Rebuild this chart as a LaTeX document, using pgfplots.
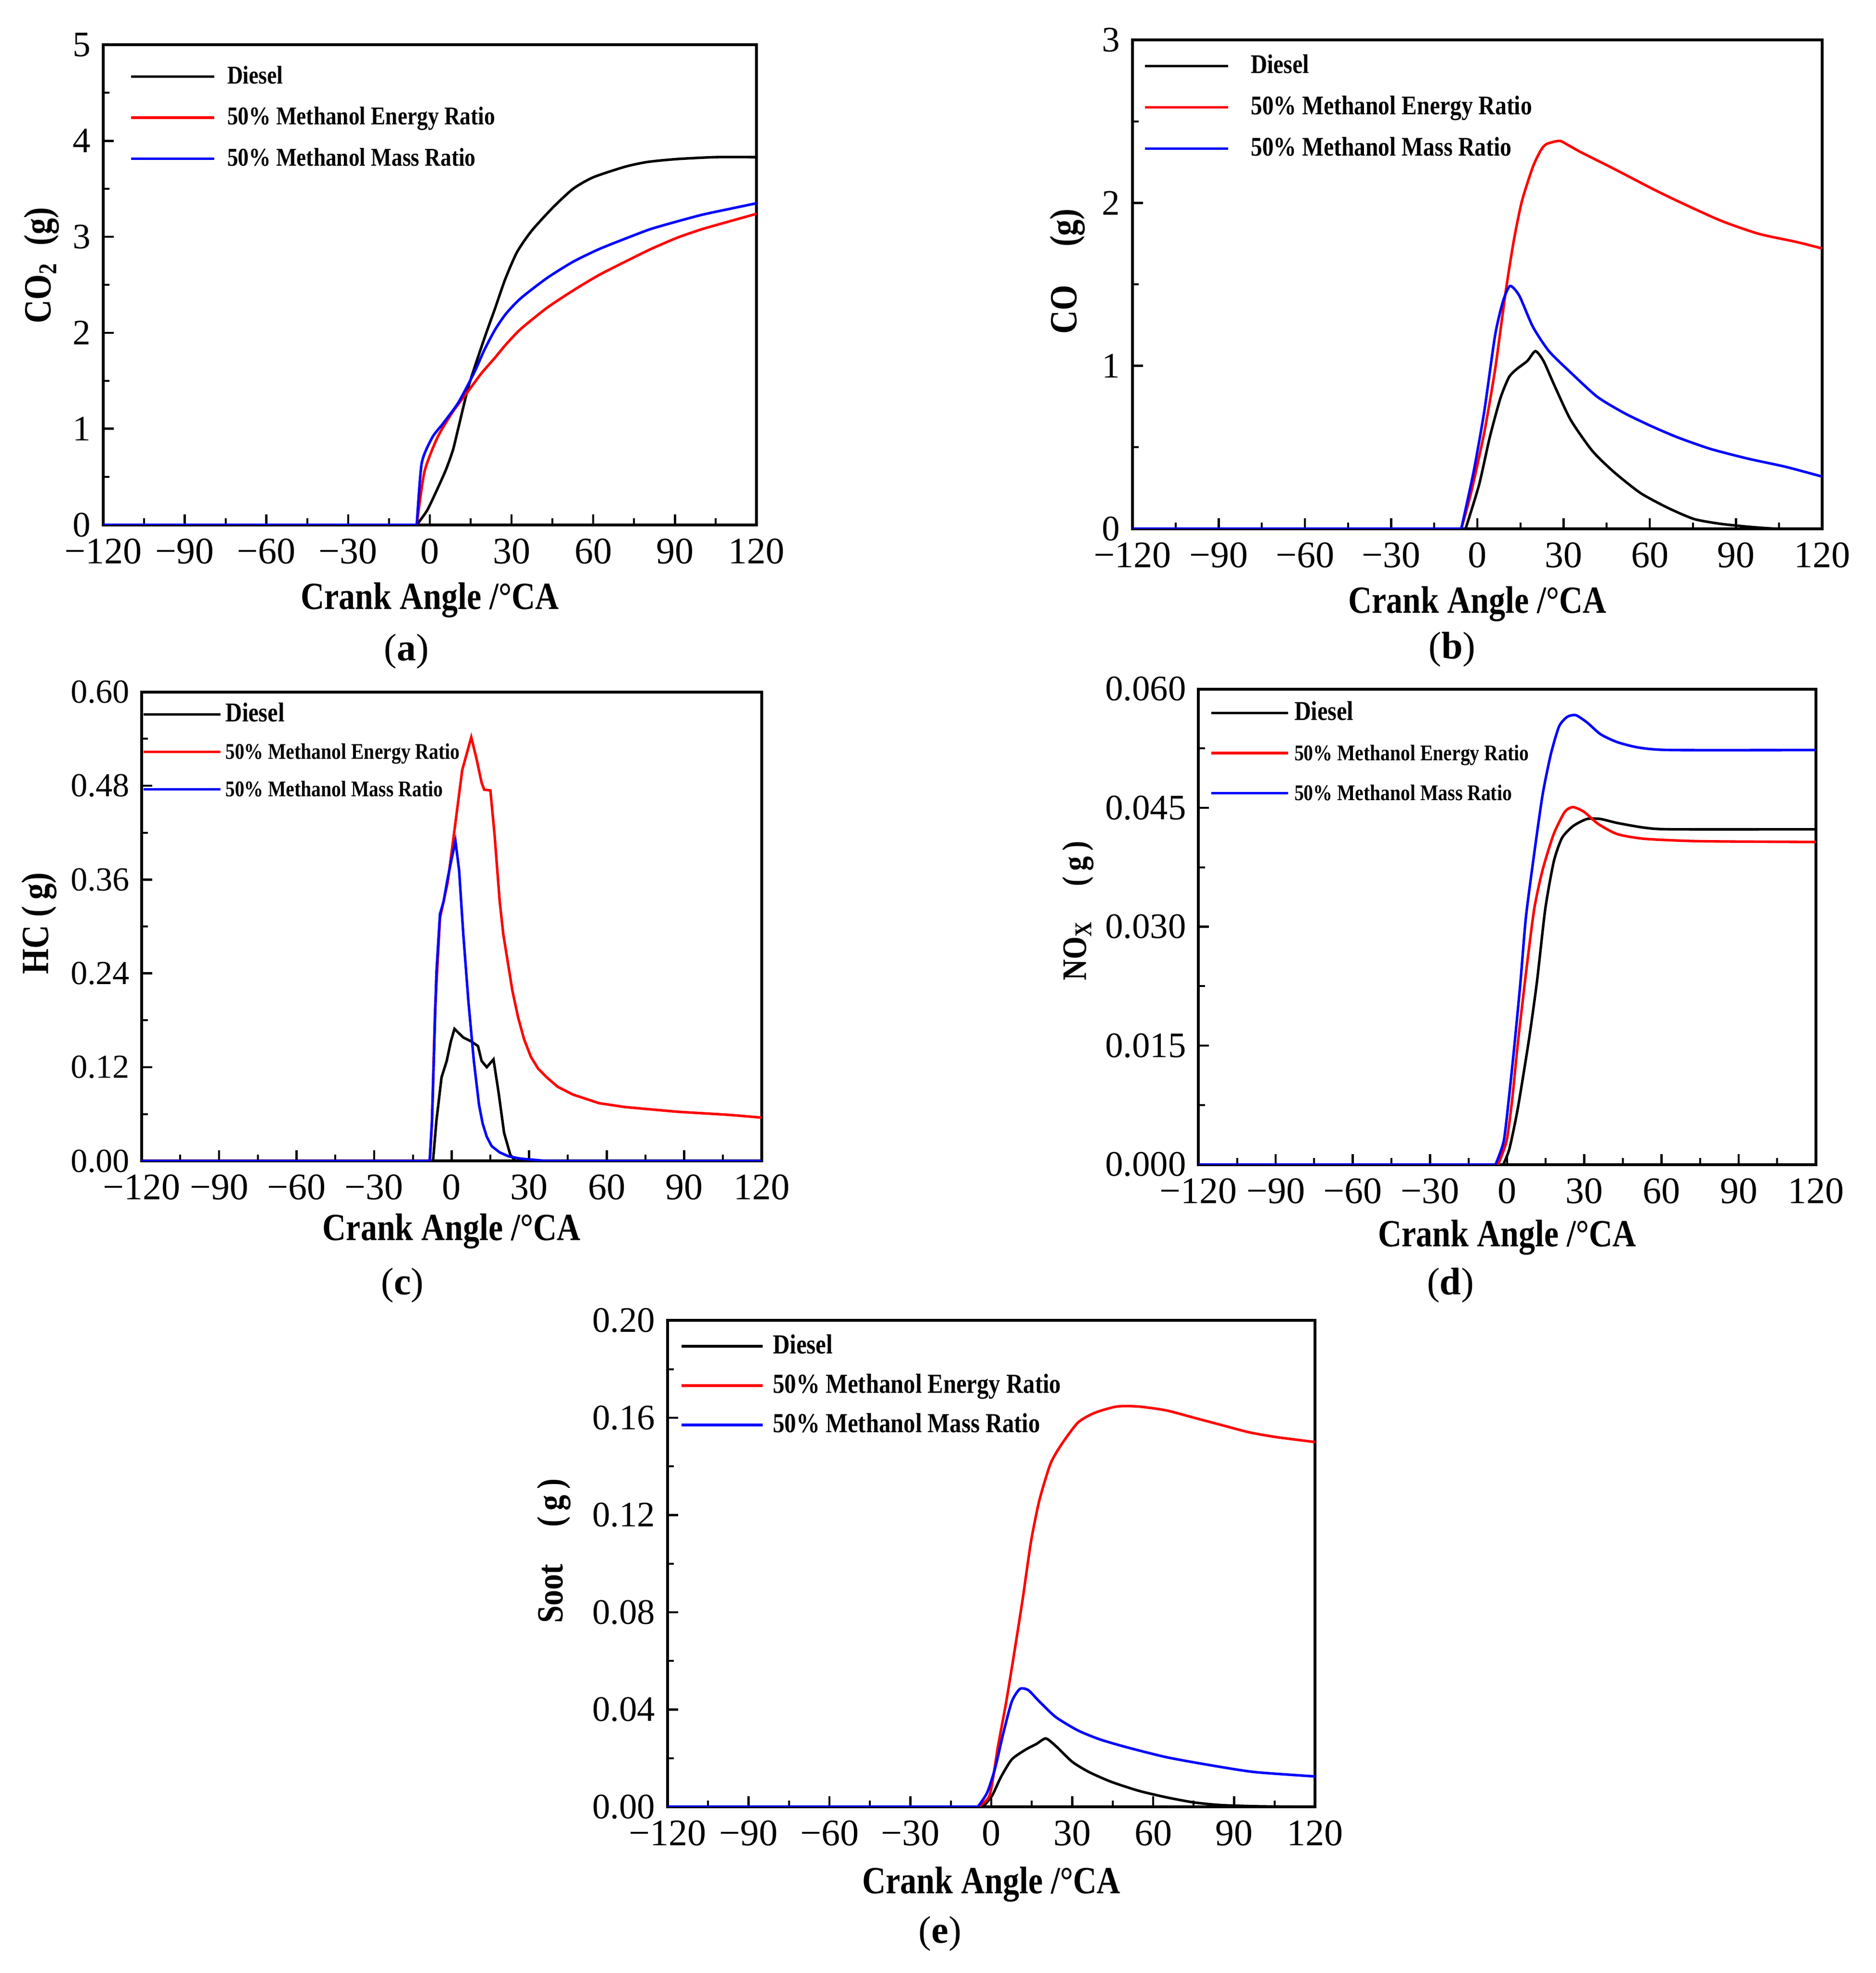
\documentclass[border=0pt]{standalone}
\usepackage{fontspec}
\setmainfont{Liberation Serif}
\newfontfamily\cond{Liberation Serif}[FakeStretch=0.85]
\usepackage{pgfplots}
\pgfplotsset{compat=1.18}
\definecolor{pred}{RGB}{255,0,0}
\definecolor{pblue}{RGB}{0,0,255}
\pgfplotsset{
 samplelen/.initial=26pt,
 panel/.style={
  scale only axis, anchor=south west,
  scaled ticks=false,
  xmin=-120, xmax=120, xtick={-120,-90,-60,-30,0,30,60,90,120},
  xticklabels={−120,−90,−60,−30,0,30,60,90,120},
  minor x tick num=1, minor y tick num=1,
  tick align=inside, xtick pos=bottom, ytick pos=left,
  major tick length=3.3pt, minor tick length=2pt,
  major tick style={line width=0.7pt,black}, minor tick style={line width=0.6pt,black},
  axis line style={line width=0.9pt},
  xticklabel style={font=\fontsize{11.7}{13}\selectfont, inner sep=0.5pt, yshift=-3.6pt},
  yticklabel style={font=\fontsize{11.2}{13}\selectfont, inner sep=0.5pt, xshift=-3.2pt},
  xlabel={Crank Angle /°CA},
  legend cell align=left,
  legend image code/.code={\draw[##1] (0pt,0pt) -- (\pgfkeysvalueof{/pgfplots/samplelen},0pt);},
  every axis plot/.append style={line width=0.8pt},
 },
 xl/.style={every axis x label/.style={at={(axis description cs:0.5,0)}, anchor=center, yshift=-#1, font=\cond\bfseries\fontsize{12}{14}\selectfont}},
 yl/.style 2 args={every axis y label/.style={at={([xshift=-#1,yshift=#2]axis description cs:0,0.5)}, rotate=90, anchor=center, font=\cond\bfseries\fontsize{12}{14}\selectfont}},
 leg/.style n args={6}{samplelen=#6, legend style={draw=none, fill=none, at={(#1,#2)}, anchor=north west, inner sep=0pt, row sep=#3, column sep=#4,
   font=\cond\bfseries\fontsize{#5}{#5}\selectfont, nodes={inner sep=0pt, text height=6pt, text depth=1.5pt}}},
}
\begin{document}
\begin{tikzpicture}
\path (0pt,0pt) rectangle (585.9pt,616.2pt);
% ---------------- (a) CO2
\begin{axis}[panel, at={(32.2pt,452.3pt)}, width=204.1pt, height=149.9pt,
  ymin=0, ymax=5, ytick={0,1,2,3,4,5}, yticklabels={0,1,2,3,4,5},
  ylabel={CO\textsubscript{2}\ \ (g)}, yl={19.2pt}{6pt}, xl=23.5pt,
  leg={0.04}{0.960}{5.3pt}{3.6pt}{8}{26pt}]
\addplot[black, forget plot] coordinates {(-120,0)(-4.8,0)};
\addplot[pred, forget plot] coordinates {(-120,0)(-4.8,0)};
\addplot[pblue, forget plot] coordinates {(-120,0)(-4.8,0)};
\addplot[black, smooth, tension=0.4] coordinates {(-4.8,0)(-1,0.15)(2.8,0.375)(6,0.58)(8.5,0.78)(10.4,1.0)(14.3,1.45)(20,1.94)(23.9,2.25)(27.7,2.56)(32,2.84)(37.3,3.06)(45,3.30)(52.6,3.50)(60,3.62)(71.7,3.73)(80,3.78)(90.8,3.81)(105,3.83)(120,3.83)};
\addplot[pred, smooth, tension=0.4] coordinates {(-4.8,0)(-2,0.55)(2.8,0.91)(8.5,1.18)(14.3,1.40)(19,1.58)(23.9,1.74)(28,1.88)(33.4,2.04)(43,2.26)(52.6,2.44)(62,2.60)(71.7,2.74)(81,2.87)(90.8,2.99)(100,3.08)(109.9,3.16)(120,3.24)};
\addplot[pblue, smooth, tension=0.4] coordinates {(-4.8,0)(-3,0.64)(0.9,0.91)(4.7,1.05)(10.4,1.27)(16.2,1.58)(20,1.82)(23.9,2.03)(28,2.20)(33.4,2.36)(43,2.57)(52.6,2.74)(62,2.87)(71.7,2.98)(81,3.08)(90.8,3.16)(100,3.23)(109.9,3.29)(120,3.35)};
\legend{Diesel,50\% Methanol Energy Ratio,50\% Methanol Mass Ratio}
\end{axis}
% ---------------- (b) CO
\begin{axis}[panel, at={(353.7pt,451.05pt)}, width=215.4pt, height=152.7pt,
  ymin=0, ymax=3, ytick={0,1,2,3}, yticklabels={0,1,2,3},
  ylabel={CO\quad(g)}, yl={20.3pt}{4pt}, xl=23.5pt,
  leg={0.015}{0.9725}{5.4pt}{6.7pt}{8.4}{26pt}]
\addplot[black, forget plot] coordinates {(-120,0)(-4.1,0)};
\addplot[pred, forget plot] coordinates {(-120,0)(-5.6,0)};
\addplot[pblue, forget plot] coordinates {(-120,0)(-5.6,0)};
\addplot[black, smooth, tension=0.4] coordinates {(-4.1,0)(0.6,0.27)(4.3,0.56)(8,0.80)(11,0.93)(13.7,0.98)(17.4,1.03)(20.2,1.09)(23,1.03)(26.8,0.88)(32.4,0.67)(39.9,0.48)(47.4,0.35)(56.7,0.22)(66.1,0.13)(75.4,0.06)(84.8,0.03)(96,0.01)(105,0)(120,0)};
\addplot[pred, smooth, tension=0.4] coordinates {(-5.6,0)(-2.2,0.22)(2.4,0.59)(6.2,0.98)(9.9,1.46)(12.7,1.77)(15.5,2.01)(19.3,2.22)(22,2.32)(24,2.36)(28.6,2.38)(32,2.35)(36.1,2.31)(47.4,2.21)(60.5,2.09)(69.8,2.01)(84.8,1.89)(97.9,1.81)(111,1.76)(120,1.72)};
\addplot[pblue, smooth, tension=0.4] coordinates {(-5.6,0)(-1.3,0.35)(2.4,0.72)(6.2,1.19)(9,1.40)(11.4,1.49)(14.6,1.43)(19.3,1.24)(24.9,1.09)(32.4,0.96)(41.7,0.81)(51.1,0.71)(60.5,0.63)(69.8,0.56)(81.1,0.49)(94.2,0.43)(107.3,0.38)(120,0.32)};
\legend{Diesel,50\% Methanol Energy Ratio,50\% Methanol Mass Ratio}
\end{axis}
% ---------------- (c) HC
\begin{axis}[panel, at={(44.2pt,253.6pt)}, width=193.7pt, height=146.5pt,
  yticklabel style={font=\fontsize{10.5}{12}\selectfont, xshift=0.2pt},
  ymin=0, ymax=0.6, ytick={0,0.12,0.24,0.36,0.48,0.6}, yticklabels={0.00,0.12,0.24,0.36,0.48,0.60},
  ylabel={HC (\,g)}, yl={32pt}{1pt}, xl=22pt,
  leg={0}{0.979}{4.2pt}{1.2pt}{7}{24pt}]
\addplot[black] coordinates {(-120,0)(-7.2,0)(-5.9,0.051)(-3.9,0.107)(-1.9,0.128)(-0.3,0.153)(1.1,0.169)(4.5,0.158)(7.6,0.153)(10.2,0.147)(11.6,0.128)(13.6,0.120)(16.2,0.130)(18.2,0.087)(20.3,0.036)(22.7,0.008)(24.7,0)(120,0)};
\addplot[pred] coordinates {(-120,0)(-8.4,0)(-7.6,0.051)(-6.4,0.194)(-4.5,0.311)(-1.5,0.357)(1.1,0.423)(4.1,0.500)(7.6,0.542)(9.6,0.515)(11.6,0.484)(12.6,0.475)(15,0.474)(16.6,0.418)(18.6,0.332)(20,0.290)(21.7,0.255)(23.5,0.218)(25.7,0.184)(28,0.156)(30.7,0.133)(33.5,0.118)(36.8,0.107)(41,0.095)(46.9,0.085)(57,0.074)(67,0.069)(87.2,0.063)(107.4,0.059)(120,0.0555)};
\addplot[pblue] coordinates {(-120,0)(-8.5,0)(-7.6,0.051)(-5.9,0.240)(-4.5,0.316)(-3.1,0.332)(-1.5,0.362)(0.1,0.388)(1.5,0.409)(2.9,0.372)(4.5,0.291)(6.5,0.204)(8.6,0.128)(10.6,0.072)(12,0.048)(13.6,0.031)(15.5,0.019)(18.6,0.011)(22,0.006)(26.7,0.003)(36.8,0)(120,0)};
\legend{{\fontsize{8.5}{9}\selectfont Diesel},50\% Methanol Energy Ratio,50\% Methanol Mass Ratio}
\end{axis}
% ---------------- (d) NOx
\begin{axis}[panel, at={(374.3pt,252.5pt)}, width=192.8pt, height=148.5pt,
  ymin=0, ymax=0.06, ytick={0,0.015,0.03,0.045,0.06}, yticklabels={0.000,0.015,0.030,0.045,0.060},
  ylabel={\fontsize{10.7}{12}\selectfont NO\textsubscript{X}\quad(\,g\,)}, yl={37.6pt}{5pt}, xl=22.8pt,
  leg={0.018}{0.976}{5.0pt}{1.5pt}{7}{24pt}]
\addplot[black, forget plot] coordinates {(-120,0)(-1.5,0)};
\addplot[pred, forget plot] coordinates {(-120,0)(-3.5,0)};
\addplot[pblue, forget plot] coordinates {(-120,0)(-4.5,0)};
\addplot[black, smooth, tension=0.4] coordinates {(-1.5,0)(0.9,0.0020)(4.1,0.0070)(8.4,0.0156)(11.6,0.0231)(14.8,0.0322)(18.1,0.0382)(21.3,0.0412)(25.6,0.0427)(31,0.0436)(36.3,0.0436)(42.8,0.0431)(53.5,0.0425)(64.3,0.0423)(120,0.0423)};
\addplot[pred, smooth, tension=0.4] coordinates {(-3.5,0)(-0.2,0.0030)(1.9,0.0080)(4.1,0.0151)(7.3,0.0241)(10.5,0.0322)(13.8,0.0372)(18.1,0.0417)(22.4,0.0445)(25.6,0.0451)(29.9,0.0445)(35.3,0.0430)(42.8,0.0417)(53.5,0.0411)(75,0.0408)(120,0.0407)};
\addplot[pblue, smooth, tension=0.4] coordinates {(-4.5,0)(-1.3,0.0030)(0.9,0.0090)(3,0.0156)(5.2,0.0231)(7.3,0.0312)(10.5,0.0392)(13.8,0.0467)(17,0.0518)(20.2,0.0553)(23.4,0.0565)(26.7,0.0567)(31,0.0558)(36.3,0.0543)(42.8,0.0533)(51.4,0.0526)(64.3,0.0523)(120,0.0523)};
\legend{{\fontsize{8.5}{9}\selectfont Diesel},50\% Methanol Energy Ratio,50\% Methanol Mass Ratio}
\end{axis}
% ---------------- (e) Soot
\begin{axis}[panel, at={(208.5pt,51.9pt)}, width=202.2pt, height=151.9pt,
  ymin=0, ymax=0.2, ytick={0,0.04,0.08,0.12,0.16,0.2}, yticklabels={0.00,0.04,0.08,0.12,0.16,0.20},
  ylabel={\fontsize{11.5}{13}\selectfont Soot\quad(\,g\,)}, yl={35.5pt}{4pt}, xl=24.3pt,
  leg={0.0185}{0.973}{4.8pt}{2.8pt}{8.6}{25.4pt}]
\addplot[black, forget plot] coordinates {(-120,0)(-3,0)};
\addplot[pred, forget plot] coordinates {(-120,0)(-5,0)};
\addplot[pblue, forget plot] coordinates {(-120,0)(-5,0)};
\addplot[black, smooth, tension=0.4] coordinates {(-3,0)(0.4,0.0048)(3.5,0.0121)(7.6,0.0195)(12.7,0.0235)(16.8,0.0259)(20.2,0.0281)(23.9,0.0250)(30,0.0185)(36.2,0.0143)(44.4,0.0103)(54.6,0.0066)(64.9,0.0039)(75.1,0.0018)(85.3,0.0007)(99.6,0.0002)(120,0)};
\addplot[pred, smooth, tension=0.4] coordinates {(-5,0)(-0.6,0.0048)(2.5,0.025)(5.5,0.043)(8.6,0.064)(11.7,0.086)(14.7,0.109)(17.8,0.126)(21.9,0.141)(26,0.149)(32.1,0.158)(38.3,0.162)(46.5,0.1646)(54.6,0.1646)(64.9,0.163)(75.1,0.160)(85.3,0.157)(95.6,0.154)(105.8,0.152)(120,0.150)};
\addplot[pblue, smooth, tension=0.4] coordinates {(-5,0)(-1.6,0.0057)(1.4,0.0158)(4.5,0.0305)(7.6,0.0433)(10.6,0.0485)(13.7,0.048)(17.8,0.0433)(23.9,0.0369)(32.1,0.0314)(40.3,0.0277)(50.5,0.0244)(64.9,0.0204)(81.2,0.0171)(97.5,0.0143)(120,0.0125)};
\legend{Diesel,50\% Methanol Energy Ratio,50\% Methanol Mass Ratio}
\end{axis}
% captions
\node[font=\fontsize{12}{14}\selectfont] at (126.9pt,412.7pt) {(\textbf{a})};
\node[font=\fontsize{12}{14}\selectfont] at (453.5pt,413.3pt) {(\textbf{b})};
\node[font=\fontsize{12}{14}\selectfont] at (125.7pt,214.8pt) {(\textbf{c})};
\node[font=\fontsize{12}{14}\selectfont] at (453pt,214.8pt) {(\textbf{d})};
\node[font=\fontsize{12}{14}\selectfont] at (293.6pt,12.3pt) {(\textbf{e})};
\end{tikzpicture}
\end{document}
